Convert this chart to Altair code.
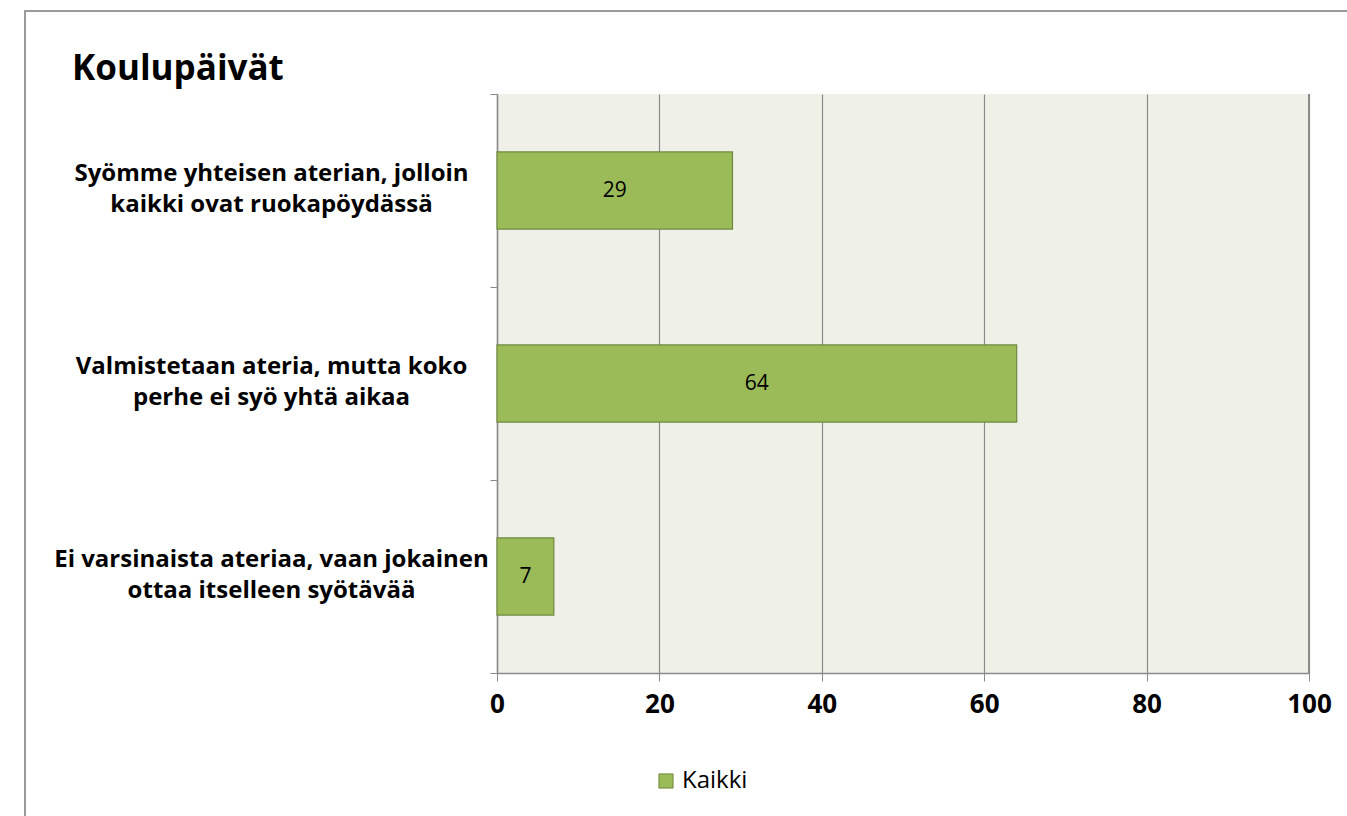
import altair as alt
import pandas as pd

title_text = "Koulupäivät"
categories = [
    ["Syömme yhteisen aterian, jolloin", "kaikki ovat ruokapöydässä"],
    ["Valmistetaan ateria, mutta koko", "perhe ei syö yhtä aikaa"],
    ["Ei varsinaista ateriaa, vaan jokainen", "ottaa itselleen syötävää"],
]
values = [29, 64, 7]
series_name = "Kaikki"
x_ticks = [0, 20, 40, 60, 80, 100]

cat_keys = [" ".join(c) for c in categories]
df = pd.DataFrame({"cat": cat_keys, "value": values, "series": [series_name] * len(values)})

label_expr = "{" + ",".join(
    f"'{k}': ['{c[0]}', '{c[1]}']" for k, c in zip(cat_keys, categories)
) + "}[datum.value]"

FONT = "Open Sans"
GREEN = "#9BBB59"
GREEN_STROKE = "#71893F"
GRID = "#8A8A8A"

W, H = 812, 579

y_enc = alt.Y(
    "cat:N",
    sort=cat_keys,
    title=None,
    scale=alt.Scale(paddingInner=0, paddingOuter=0),
    axis=alt.Axis(
        labelExpr=label_expr,
        labelFont=FONT,
        labelFontSize=24,
        labelFontWeight="bold",
        labelColor="#000000",
        labelAlign="center",
        labelBaseline="middle",
        labelLineHeight=31,
        labelOffset=-17,
        labelPadding=219,
        labelLimit=0,
        tickBand="extent",
        tickSize=7,
        tickColor=GRID,
        domainColor=GRID,
        domainWidth=1.5,
        grid=False,
    ),
)

x_enc = alt.X(
    "value:Q",
    title=None,
    scale=alt.Scale(domain=[0, 100], nice=False),
    axis=alt.Axis(
        values=x_ticks,
        labelFont=FONT,
        labelFontSize=26,
        labelFontWeight="bold",
        labelColor="#000000",
        labelFlush=False,
        labelPadding=10,
        tickSize=8,
        tickColor=GRID,
        domainColor=GRID,
        domainWidth=1.5,
        grid=True,
        gridColor=GRID,
        gridWidth=1.2,
    ),
)

bars = alt.Chart(df).mark_bar(
    stroke=GREEN_STROKE, strokeWidth=1.2, height=alt.RelativeBandSize(0.4)
).encode(
    y=y_enc,
    x=x_enc,
    color=alt.Color(
        "series:N",
        scale=alt.Scale(domain=[series_name], range=[GREEN]),
        legend=alt.Legend(
            title=None,
            orient="none",
            legendX=157,
            legendY=675,
            symbolType="square",
            symbolSize=200,
            symbolStrokeColor=GREEN_STROKE,
            symbolStrokeWidth=1,
            labelFont=FONT,
            labelFontSize=24,
            labelColor="#000000",
            labelOffset=4,
        ),
    ),
)

labels = alt.Chart(df).mark_text(font=FONT, fontSize=21, color="#000000").encode(
    y=alt.Y("cat:N", sort=cat_keys),
    x=alt.X("mid:Q"),
    text=alt.Text("value:Q"),
).transform_calculate(mid="datum.value / 2")

right_edge = alt.Chart(df).mark_rule(color=GRID, strokeWidth=1.5).encode(
    x=alt.value(W), y=alt.value(0), y2=alt.value(H)
)

title_mark = alt.Chart(pd.DataFrame({"t": [title_text]})).mark_text(
    font=FONT, fontSize=35, fontWeight="bold", color="#000000", align="left", baseline="alphabetic"
).encode(x=alt.value(72 - 497), y=alt.value(80 - 94), text="t:N")

frame = alt.Chart(pd.DataFrame({"t": [0]})).mark_rect(
    fill=None, stroke="#9A9A9A", strokeWidth=2, filled=False
).encode(
    x=alt.value(25 - 497), x2=alt.value(1400), y=alt.value(11 - 94), y2=alt.value(900)
)

chart = alt.layer(frame, bars, labels, right_edge, title_mark).properties(
    width=W,
    height=H,
    autosize=alt.AutoSizeParams(type="none"),
    padding={"left": 497, "top": 94, "right": 38, "bottom": 143},
    background="#FFFFFF",
).configure_view(
    fill="#EFF1E9",
    stroke=None,
)

chart.save("out.html", embed_options={"renderer": "svg", "actions": False})
